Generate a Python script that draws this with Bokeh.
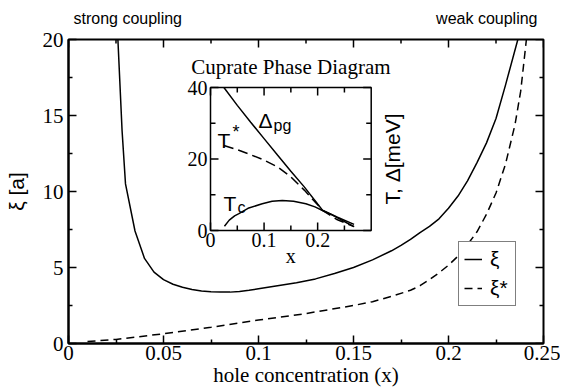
import math
from bokeh.plotting import figure
from bokeh.layouts import column
from bokeh.models import Range1d, FixedTicker, Legend, LegendItem
from bokeh.embed import file_html
from bokeh.resources import INLINE
from bokeh.core.properties import value

# ---------------- data ----------------
# main panel: coherence length xi and xi* vs hole concentration
xi_x = [0.026, 0.0282, 0.030, 0.035, 0.040, 0.045, 0.050, 0.055, 0.060, 0.065, 0.070,
        0.075, 0.080, 0.085, 0.090, 0.095, 0.100, 0.110, 0.120, 0.130, 0.140, 0.150,
        0.160, 0.170, 0.175, 0.180, 0.185, 0.190, 0.195, 0.200, 0.205, 0.210, 0.215,
        0.220, 0.225, 0.230, 0.2365]
xi_y = [20.0, 14.0, 10.5, 7.4, 5.6, 4.7, 4.2, 3.9, 3.7, 3.55, 3.45,
        3.4, 3.38, 3.38, 3.42, 3.5, 3.6, 3.8, 4.0, 4.25, 4.6, 5.0,
        5.5, 6.1, 6.45, 6.85, 7.3, 7.7, 8.2, 8.9, 9.7, 10.7, 11.9,
        13.2, 14.8, 17.0, 20.0]

xis_x = [0.010, 0.025, 0.050, 0.075, 0.100, 0.125, 0.150, 0.160, 0.170, 0.180, 0.185,
         0.190, 0.195, 0.200, 0.205, 0.210, 0.215, 0.220, 0.225, 0.230, 0.235, 0.238,
         0.241]
xis_y = [0.13, 0.27, 0.64, 1.07, 1.54, 1.97, 2.5, 2.75, 3.1, 3.5, 3.8,
         4.2, 4.65, 5.15, 5.75, 6.5, 7.35, 8.5, 9.9, 11.8, 14.4, 16.6,
         20.0]

# inset: cuprate phase diagram
dpg_x = [0.025, 0.050, 0.075, 0.100, 0.125, 0.150, 0.175, 0.200, 0.209, 0.237, 0.268]
dpg_y = [40.0, 35.0, 30.3, 25.7, 21.1, 16.6, 12.2, 7.4, 5.7, 3.7, 1.7]

tstar_x = [0.025, 0.050, 0.075, 0.100, 0.125, 0.150, 0.175, 0.190, 0.200, 0.209, 0.237, 0.268]
tstar_y = [23.8, 22.6, 21.2, 19.7, 17.8, 15.0, 11.3, 8.8, 7.2, 5.6, 3.0, 1.1]

tc_x = [0.026, 0.035, 0.045, 0.053, 0.070, 0.0966, 0.115, 0.134, 0.155, 0.178,
        0.195, 0.209, 0.225, 0.240, 0.255, 0.268]
tc_y = [1.2, 2.9, 4.1, 4.7, 6.2, 7.5, 8.2, 8.4, 8.2, 7.5,
        6.6, 5.6, 4.5, 3.3, 2.1, 1.1]

# ticks
x_ticks = [0, 0.05, 0.1, 0.15, 0.2, 0.25]
x_tick_labels = ["0", "0.05", "0.1", "0.15", "0.2", "0.25"]
x_minor = [0.025, 0.075, 0.125, 0.175, 0.225]
y_ticks = [0, 5, 10, 15, 20]
y_minor = [2.5, 7.5, 12.5, 17.5]

in_x_ticks = [0, 0.1, 0.2]
in_x_labels = ["0", "0.1", "0.2"]
in_x_minor = [0.05, 0.15, 0.25]
in_y_ticks = [0, 20, 40]
in_y_labels = ["0", "20", "40"]
in_y_minor = [10, 30]

SERIF = "Liberation Serif"
SANS = "Liberation Sans"
W = 560
STRIP_H = 27
x_range = Range1d(0, 0.25)

# ---------------- strip above the frame with the two coupling labels ----------------
top = figure(width=W, height=STRIP_H, output_backend="svg", toolbar_location=None,
             x_range=x_range, y_range=Range1d(0, 1), x_axis_type=None, y_axis_type=None,
             min_border_left=68, min_border_right=17, min_border_top=0, min_border_bottom=0)
top.title.visible = False
top.grid.visible = False
top.outline_line_color = None
top.text(x=[0], y=[0.333], text=["strong coupling"], x_offset=5, text_align="left",
         text_baseline="alphabetic", text_font=value(SANS), text_font_size="16px",
         text_color="black")
top.text(x=[0.25], y=[0.333], text=["weak coupling"], x_offset=-6, text_align="right",
         text_baseline="alphabetic", text_font=value(SANS), text_font_size="16px",
         text_color="black")

# ---------------- main figure ----------------
p = figure(width=W, height=392 - STRIP_H, output_backend="svg", toolbar_location=None,
           x_range=x_range, y_range=Range1d(0, 20),
           min_border_left=68, min_border_right=17, min_border_top=39 - STRIP_H,
           min_border_bottom=49)
p.title.visible = False
p.grid.visible = False
p.outline_line_color = "black"
p.outline_line_width = 2
p.background_fill_color = "white"
p.border_fill_color = "white"

p.xaxis.ticker = FixedTicker(ticks=x_ticks, minor_ticks=x_minor)
p.xaxis.major_label_overrides = dict(zip(x_ticks, x_tick_labels))
p.yaxis.ticker = FixedTicker(ticks=y_ticks, minor_ticks=y_minor)
for ax in (p.xaxis[0], p.yaxis[0]):
    ax.major_tick_in = 8
    ax.major_tick_out = 0
    ax.minor_tick_in = 4
    ax.minor_tick_out = 0
    ax.axis_line_width = 2
    ax.axis_line_color = "black"
    ax.major_tick_line_color = "black"
    ax.minor_tick_line_color = "black"
    ax.major_tick_line_width = 1.5
    ax.minor_tick_line_width = 1.5
    ax.major_label_text_font = SERIF
    ax.major_label_text_font_size = "21px"
    ax.major_label_text_color = "black"
    ax.axis_label_text_color = "black"
    ax.axis_label_text_font_size = "21px"
    ax.axis_label_text_font_style = "normal"
p.xaxis.major_label_standoff = 2
p.yaxis.major_label_standoff = 5

p.xaxis.axis_label = "hole concentration (x)"
p.xaxis.axis_label_text_font = SERIF
p.xaxis.axis_label_standoff = 0

p.yaxis.axis_label = "ξ [a]"
p.yaxis.axis_label_text_font = SANS
p.yaxis.axis_label_standoff = 12

# mirrored inward ticks on top and right edges
p.ray(x=x_ticks, y=20, length=8, angle=-math.pi / 2, length_units="screen",
      line_color="black", line_width=1.5)
p.ray(x=x_minor, y=20, length=4, angle=-math.pi / 2, length_units="screen",
      line_color="black", line_width=1.5)
p.ray(x=0.25, y=y_ticks, length=8, angle=math.pi, length_units="screen",
      line_color="black", line_width=1.5)
p.ray(x=0.25, y=y_minor, length=4, angle=math.pi, length_units="screen",
      line_color="black", line_width=1.5)

# main curves
r_xi = p.line(xi_x, xi_y, line_color="black", line_width=1.5)
r_xis = p.line(xis_x, xis_y, line_color="black", line_width=1.5, line_dash="8 5")

legend = Legend(items=[LegendItem(label="ξ", renderers=[r_xi]),
                       LegendItem(label="ξ*", renderers=[r_xis])],
                location=(390, 37), padding=5, spacing=5, margin=0,
                glyph_width=18, glyph_height=20, label_height=20,
                label_standoff=8, border_line_color="black", border_line_width=1,
                label_text_font=SANS, label_text_font_size="21px",
                label_text_color="black",
                background_fill_color="white", background_fill_alpha=1)
p.add_layout(legend)

# ---------------- inset (sub-coordinate system) ----------------
ins = p.subplot(x_source=Range1d(0, 0.3), y_source=Range1d(0, 40),
                x_target=Range1d(0.07474, 0.15932), y_target=Range1d(7.434, 16.842))

ins.quad(left=[0], right=[0.3], bottom=[0], top=[40], fill_color="white",
         line_color="black", line_width=1.5)
tick_style = dict(length_units="screen", line_color="black", line_width=1.5)
ins.ray(x=in_x_ticks, y=0, length=8, angle=math.pi / 2, **tick_style)
ins.ray(x=in_x_minor, y=0, length=5, angle=math.pi / 2, **tick_style)
ins.ray(x=in_x_ticks, y=40, length=8, angle=-math.pi / 2, **tick_style)
ins.ray(x=in_x_minor, y=40, length=5, angle=-math.pi / 2, **tick_style)
ins.ray(x=0, y=in_y_ticks, length=8, angle=0, **tick_style)
ins.ray(x=0, y=in_y_minor, length=5, angle=0, **tick_style)
ins.ray(x=0.3, y=in_y_ticks, length=8, angle=math.pi, **tick_style)
ins.ray(x=0.3, y=in_y_minor, length=5, angle=math.pi, **tick_style)

ins.line(dpg_x, dpg_y, line_color="black", line_width=1.5)
ins.line(tstar_x, tstar_y, line_color="black", line_width=1.5, line_dash="10 5")
ins.line(tc_x, tc_y, line_color="black", line_width=1.5)

ins.text(x=in_x_ticks, y=0, text=in_x_labels, y_offset=2, text_align="center",
         text_baseline="top", text_font=value(SERIF), text_font_size="20px",
         text_color="black")
ins.text(x=0, y=in_y_ticks, text=in_y_labels, x_offset=-3, text_align="right",
         text_baseline="middle", text_font=value(SERIF), text_font_size="20px",
         text_color="black")
ins.text(x=[0.15], y=[0], text=["x"], y_offset=25, text_align="center",
         text_baseline="middle", text_font=value(SERIF), text_font_size="20px",
         text_color="black")
ins.text(x=[0.15], y=[40], text=["Cuprate Phase Diagram"], y_offset=-21,
         text_align="center", text_baseline="alphabetic", text_font=value(SERIF),
         text_font_size="21px", text_color="black")
ins.text(x=[0.3], y=[20], text=["T, Δ[meV]"], x_offset=21, angle=math.pi / 2,
         text_align="center", text_baseline="middle", text_font=value(SANS),
         text_font_size="21px", text_color="black")

# curve labels with sub/superscripts
lab = dict(text_font=value(SANS), text_color="black", text_baseline="alphabetic",
           text_align="left")
ins.text(x=[0.0897], y=[30.8], text=["Δ"], text_font_size="21px", **lab)
ins.text(x=[0.1178], y=[29.4], text=["pg"], text_font_size="16px", **lab)
ins.text(x=[0.0131], y=[25.2], text=["T"], text_font_size="21px", **lab)
ins.text(x=[0.0411], y=[27.6], text=["*"], text_font_size="18px", **lab)
ins.text(x=[0.0243], y=[7.55], text=["T"], text_font_size="21px", **lab)
ins.text(x=[0.0505], y=[6.43], text=["c"], text_font_size="16px", **lab)

layout = column(top, p)
open("out.html", "w").write(file_html(layout, INLINE))
